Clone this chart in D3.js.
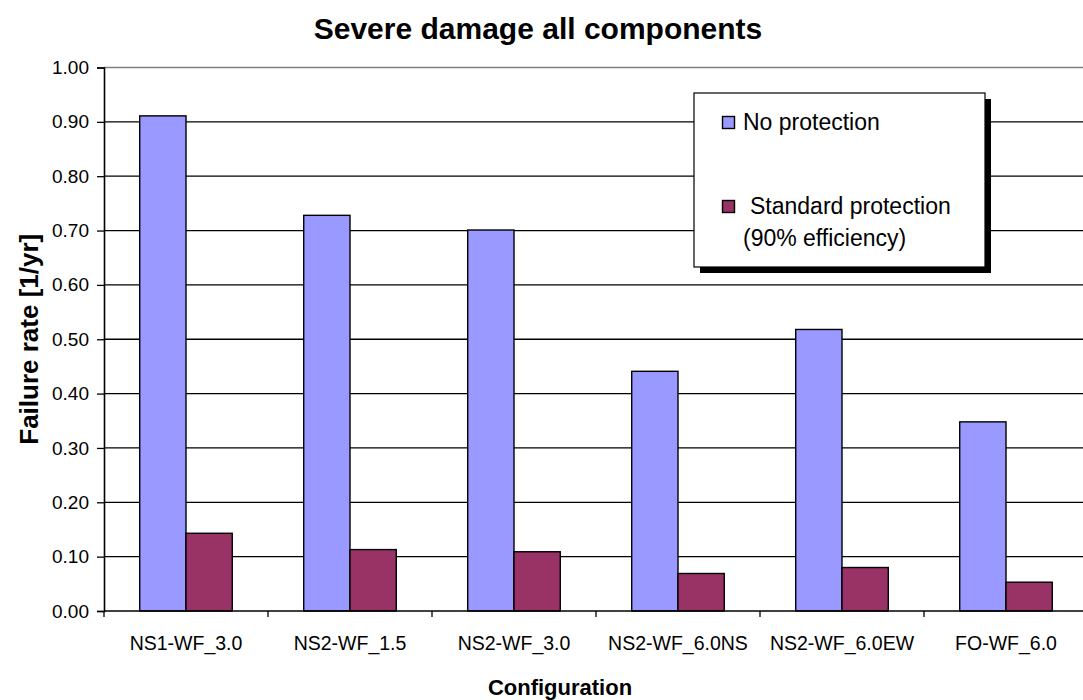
<!DOCTYPE html>
<html>
<head>
<meta charset="utf-8">
<script src="https://cdn.jsdelivr.net/npm/d3@7"></script>
<style>
  html, body { margin: 0; padding: 0; background: #fff; }
  svg { display: block; font-family: Arial, "Liberation Sans", sans-serif; }
</style>
</head>
<body>
<svg id="chart" width="1083" height="700"></svg>
<script>
// Failure rates per configuration, with and without protection
const categories = ["NS1-WF_3.0", "NS2-WF_1.5", "NS2-WF_3.0", "NS2-WF_6.0NS", "NS2-WF_6.0EW", "FO-WF_6.0"];
const noProtection = [0.911, 0.728, 0.701, 0.441, 0.518, 0.348];
const standardProtection = [0.143, 0.113, 0.109, 0.069, 0.080, 0.053];
const seriesNames = ["No protection", "Standard protection"];
const yTicks = [0, 0.1, 0.2, 0.3, 0.4, 0.5, 0.6, 0.7, 0.8, 0.9, 1.0];

const colors = { "No protection": "#9999FF", "Standard protection": "#993366" };

const svg = d3.select("#chart");
const plot = { left: 104, right: 1088, top: 67.5, bottom: 611 };

const y = d3.scaleLinear().domain([0, 1]).range([plot.bottom, plot.top]);
const x = d3.scaleBand().domain(categories).range([plot.left, plot.right]).paddingInner(0).paddingOuter(0);
const xs = d3.scaleBand().domain(seriesNames).range([0, x.bandwidth()]).paddingInner(0).paddingOuter(0.772);

// Horizontal gridlines
svg.append("g").selectAll("line")
  .data(yTicks.filter(t => t > 0))
  .join("line")
  .attr("x1", plot.left).attr("x2", 1083)
  .attr("y1", d => y(d)).attr("y2", d => y(d))
  .attr("stroke", d => d === 1 ? "#808080" : "#000")
  .attr("stroke-width", 1.3);

// Bars
const rows = categories.map((c, i) => ({ cat: c, values: [
  { s: "No protection", v: noProtection[i] },
  { s: "Standard protection", v: standardProtection[i] }
]}));

svg.append("g").selectAll("g")
  .data(rows)
  .join("g")
  .attr("transform", d => `translate(${x(d.cat)},0)`)
  .selectAll("rect")
  .data(d => d.values)
  .join("rect")
  .attr("x", d => xs(d.s))
  .attr("width", xs.bandwidth())
  .attr("y", d => y(d.v))
  .attr("height", d => y(0) - y(d.v))
  .attr("fill", d => colors[d.s])
  .attr("stroke", "#000")
  .attr("stroke-width", 1.4);

// Y axis
const yAxis = d3.axisLeft(y).tickValues(yTicks).tickFormat(d3.format(".2f")).tickSize(7).tickPadding(8);
const gy = svg.append("g").attr("transform", `translate(${plot.left},0)`).call(yAxis);
gy.select(".domain").attr("stroke", "#000").attr("stroke-width", 1.6);
gy.selectAll(".tick line").attr("stroke", "#000").attr("stroke-width", 1.3);
gy.selectAll(".tick text").attr("font-size", 19).attr("fill", "#000").attr("font-family", "Arial, 'Liberation Sans', sans-serif");

// X axis: baseline, boundary ticks, category labels
const gx = svg.append("g");
gx.append("line")
  .attr("x1", plot.left).attr("x2", 1083)
  .attr("y1", y(0)).attr("y2", y(0))
  .attr("stroke", "#000").attr("stroke-width", 1.6);
const bounds = categories.map(c => x(c));
gx.selectAll(".xt").data(bounds).join("line")
  .attr("class", "xt")
  .attr("x1", d => d).attr("x2", d => d)
  .attr("y1", y(0)).attr("y2", y(0) + 6)
  .attr("stroke", "#000").attr("stroke-width", 1.3);
gx.selectAll(".xl").data(categories).join("text")
  .attr("class", "xl")
  .attr("x", d => x(d) + x.bandwidth() / 2)
  .attr("y", 650)
  .attr("text-anchor", "middle")
  .attr("font-size", 19.5)
  .text(d => d);

// Titles
svg.append("text")
  .attr("x", 538).attr("y", 39)
  .attr("text-anchor", "middle")
  .attr("font-size", 30).attr("font-weight", "bold")
  .text("Severe damage all components");

svg.append("text")
  .attr("x", 560).attr("y", 695)
  .attr("text-anchor", "middle")
  .attr("font-size", 22).attr("font-weight", "bold")
  .text("Configuration");

svg.append("text")
  .attr("transform", `translate(38,${(plot.top + plot.bottom) / 2}) rotate(-90)`)
  .attr("text-anchor", "middle")
  .attr("font-size", 26).attr("font-weight", "bold")
  .text("Failure rate [1/yr]");

// Legend with drop shadow
const lg = svg.append("g").attr("transform", "translate(694,93)");
lg.append("rect").attr("x", 6).attr("y", 6).attr("width", 291).attr("height", 174).attr("fill", "#000");
lg.append("rect").attr("x", 0).attr("y", 0).attr("width", 291).attr("height", 174)
  .attr("fill", "#fff").attr("stroke", "#000").attr("stroke-width", 1.2);

lg.append("rect").attr("x", 28.5).attr("y", 23.5).attr("width", 12).attr("height", 12)
  .attr("fill", colors["No protection"]).attr("stroke", "#000").attr("stroke-width", 1.4);
lg.append("text").attr("x", 49).attr("y", 37).attr("font-size", 23).text("No protection");

lg.append("rect").attr("x", 28.5).attr("y", 107.5).attr("width", 12).attr("height", 12)
  .attr("fill", colors["Standard protection"]).attr("stroke", "#000").attr("stroke-width", 1.4);
lg.append("text").attr("x", 56).attr("y", 121).attr("font-size", 23).text("Standard protection");
lg.append("text").attr("x", 49).attr("y", 153).attr("font-size", 23).text("(90% efficiency)");
</script>
</body>
</html>
